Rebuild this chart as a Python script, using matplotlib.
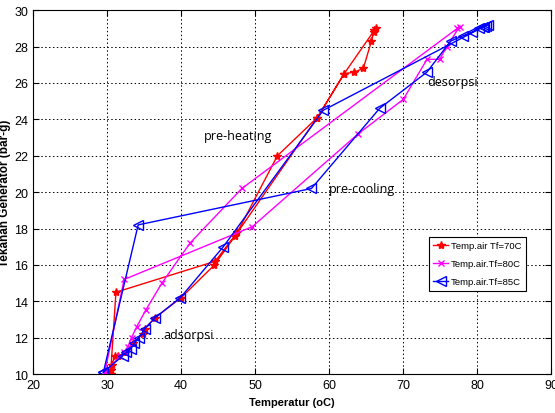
import matplotlib
matplotlib.use("Agg")
import matplotlib.pyplot as plt

# Tf = 70C (red, '*')
t70 = [30.5, 31.2, 44.6, 47.6, 53.0, 58.4, 62.0, 63.4, 64.6, 65.7, 66.0, 66.3, 66.1,
       62.0, 58.4, 47.3, 44.5, 40.0, 36.5, 35.1, 34.8, 33.5, 32.5, 31.5, 31.1, 30.6, 30.5]
p70 = [10.2, 14.5, 16.2, 17.8, 22.0, 24.1, 26.5, 26.6, 26.8, 28.3, 28.8, 29.0, 28.9,
       26.5, 24.1, 17.6, 16.0, 14.2, 13.1, 12.5, 12.2, 11.7, 11.2, 11.0, 11.0, 10.5, 10.0]

# Tf = 80C (magenta, 'x')
t80 = [29.7, 32.3, 49.6, 63.9, 70.0, 73.2, 74.9, 75.9, 77.6, 77.3, 48.2, 41.2, 37.4,
       35.2, 34.0, 33.3, 32.8, 32.3, 31.8, 29.7]
p80 = [10.1, 15.2, 18.1, 23.2, 25.1, 27.3, 27.3, 28.0, 29.1, 29.0, 20.2, 17.2, 15.0,
       13.5, 12.6, 12.0, 11.5, 11.2, 11.0, 10.1]

# Tf = 85C (blue, '<')
t85 = [29.5, 34.2, 57.6, 66.8, 73.2, 76.4, 78.1, 79.3, 80.2, 80.7, 81.2, 81.5, 80.9,
       59.2, 45.7, 39.9, 36.5, 35.1, 34.3, 33.7, 33.2, 32.6, 32.1, 29.5]
p85 = [10.1, 18.2, 20.2, 24.6, 26.6, 28.3, 28.6, 28.8, 29.0, 29.1, 29.15, 29.2, 29.1,
       24.5, 17.0, 14.2, 13.1, 12.5, 12.0, 11.7, 11.4, 11.2, 11.0, 10.1]

labels = ["Temp.air Tf=70C", "Temp.air.Tf=80C", "Temp.air.Tf=85C"]
notes = [("pre-heating", 43.1, 23.1), ("pre-cooling", 60.0, 20.2),
         ("desorpsi", 73.2, 26.1), ("adsorpsi", 37.6, 12.2)]

fig = plt.figure(figsize=(5.55, 4.14), dpi=100)
ax = fig.add_axes([0.0595, 0.094, 0.934, 0.879])

ax.plot(t70, p70, color="#ff0000", marker="*", markersize=6, lw=1.0, label=labels[0])
ax.plot(t80, p80, color="#ff00ff", marker="x", markersize=5, lw=1.0, label=labels[1])
ax.plot(t85, p85, color="#0000ff", marker="<", markersize=6.5, mfc="none", lw=1.0,
        label=labels[2])

for txt, x, y in notes:
    ax.text(x, y, txt, fontsize=9, family="Open Sans", va="center", ha="left")

ax.set_xlim(20, 90)
ax.set_ylim(10, 30)
ax.set_xticks(range(20, 91, 10))
ax.set_yticks(range(10, 31, 2))
ax.grid(True, color="black", linestyle=(0, (1.5, 2.5)), linewidth=0.7)
ax.tick_params(direction="in", labelsize=9, top=True, right=True, length=4)
for lab in ax.get_xticklabels() + ax.get_yticklabels():
    lab.set_family("Liberation Sans")
for s in ax.spines.values():
    s.set_linewidth(0.8)

ax.set_xlabel("Temperatur (oC)", fontsize=8, fontweight="bold", family="Liberation Sans",
              labelpad=4)
ax.set_ylabel("Tekanan Generator (bar-g)", fontsize=8.5, fontweight="bold",
              family="Liberation Sans", labelpad=2)

leg = ax.legend(loc="upper left", bbox_to_anchor=(0.763, 0.378), fancybox=False,
                framealpha=1, edgecolor="black", handlelength=1.6,
                borderpad=0.5, labelspacing=0.95, handletextpad=0.25, borderaxespad=0,
                prop={"family": "Liberation Sans", "size": 6.8})
leg.get_frame().set_linewidth(0.8)

plt.savefig("out.png", dpi=100)
